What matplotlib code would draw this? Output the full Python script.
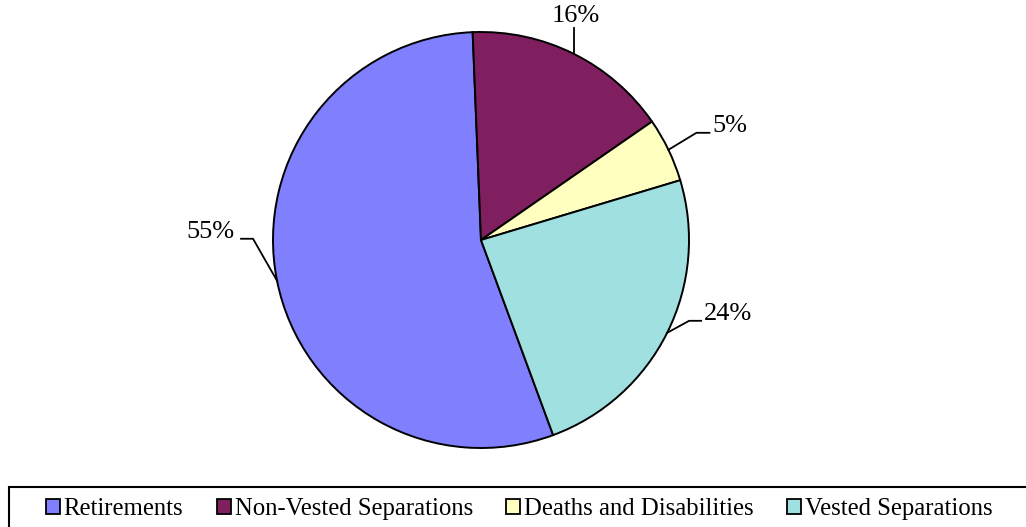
import numpy as np
import matplotlib.pyplot as plt
from matplotlib.patches import Rectangle

plt.rcParams['font.family'] = ['Liberation Serif', 'DejaVu Serif']

categories = ['Retirements', 'Non-Vested Separations', 'Deaths and Disabilities', 'Vested Separations']
shares = [55, 16, 5, 24]
colors = ['#8080FF', '#801F5F', '#FFFFC0', '#A0E0E0']

W, H = 1026, 527
cx, cy, R = 481, 240, 208  # pie centre / radius in pixels

fig = plt.figure(figsize=(W / 100, H / 100), dpi=100)
ax = fig.add_axes([0, 0, 1, 1])

wedges, _ = ax.pie(shares, colors=colors, startangle=290.3, counterclock=False,
                   wedgeprops=dict(edgecolor='black', linewidth=1.4))
ax.set_xlim(-cx / R, (W - cx) / R)
ax.set_ylim((cy - H) / R, cy / R)
ax.set_aspect('auto')
ax.axis('off')

# leader line offsets in pixels (elbow dx, dy up, horizontal tail, text side)
leaders = [(-24, 42, -12, 'right'), (0, 26, 0, 'center'), (28, 17, 13, 'left'), (22, 12, 12, 'left')]
for w, val, (dx, dy, tail, ha) in zip(wedges, shares, leaders):
    mid = np.deg2rad((w.theta1 + w.theta2) / 2)
    x0, y0 = np.cos(mid), np.sin(mid)
    x1, y1 = x0 + dx / R, y0 + dy / R
    x2, y2 = x1 + tail / R, y1
    ax.plot([x0, x1, x2], [y0, y1, y2], color='black', lw=1.3)
    if ha == 'center':
        ax.text(x2 + 2 / R, y2 + 1 / R, f'{val}%', ha='center', va='bottom', fontsize=19)
    else:
        off = 3 if ha == 'left' else -7
        ax.text(x2 + off / R, y2 + 7 / R, f'{val}%', ha=ha, va='center', fontsize=19)

# legend frame (runs off the canvas like the original)
fig.patches.append(Rectangle((9 / W, -0.1), (W + 20) / W, (H - 487) / H + 0.1,
                             transform=fig.transFigure, fill=False, edgecolor='black', lw=1.5))
handles = [Rectangle((0, 0), 1, 1, facecolor=c, edgecolor='black', lw=1.3) for c in colors]
fig.legend(handles, categories, ncol=4, loc='center left',
           bbox_to_anchor=(46 / W, 1 - 509 / H), frameon=False, fontsize=17.8,
           handlelength=0.56, handleheight=0.56, handletextpad=0.16,
           columnspacing=1.35, borderpad=0, borderaxespad=0)

fig.savefig('out.png', dpi=100)
